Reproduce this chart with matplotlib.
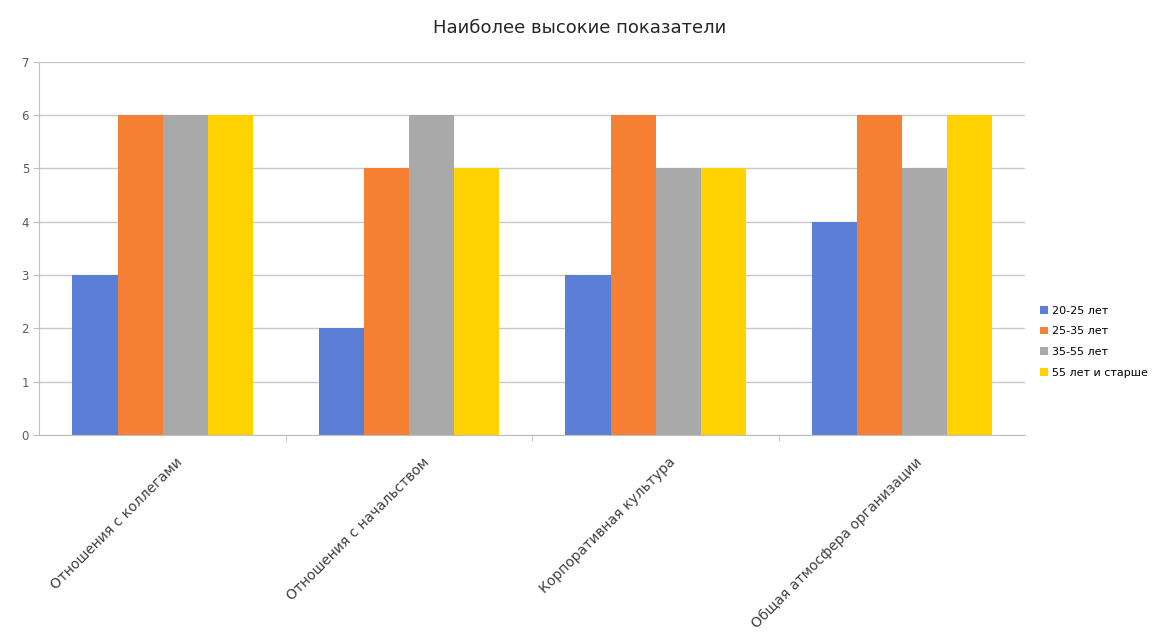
import numpy as np
import matplotlib
matplotlib.use('Agg')
import matplotlib.pyplot as plt
from matplotlib.transforms import ScaledTranslation

# --- data ---
categories = ['Отношения с коллегами', 'Отношения с начальством',
              'Корпоративная культура', 'Общая атмосфера организации']
series = ['20-25 лет', '25-35 лет', '35-55 лет', '55 лет и старше']
v_20_25 = [3, 2, 3, 4]
v_25_35 = [6, 5, 6, 6]
v_35_55 = [6, 6, 5, 5]
v_55 = [6, 5, 5, 6]
colors = ['#5b7fd6', '#f57f32', '#a9a9a9', '#ffd200']

values = [v_20_25, v_25_35, v_35_55, v_55]

fig = plt.figure(figsize=(11.6, 6.37), dpi=100)
ax = fig.add_axes([0.034, 0.317, 0.85, 0.586])

x = np.arange(len(categories))
w = 0.183
for i, (name, vals, c) in enumerate(zip(series, values, colors)):
    ax.bar(x + (i - 1.5) * w, vals, width=w, color=c, label=name, zorder=2)

ax.set_xlim(-0.5, len(categories) - 0.5)
ax.set_ylim(0, 7)
ax.set_yticks(range(0, 8))
ax.tick_params(axis='y', length=4, color='#bfbfbf', labelsize=8.5, labelcolor='#595959')
ax.yaxis.grid(True, color='#c8c8c8', linewidth=1, zorder=0)
ax.set_axisbelow(True)

ax.set_xticks(x)
ax.set_xticklabels(categories, rotation=45, ha='right', va='center',
                   rotation_mode='anchor', fontsize=10, color='#404040')
ax.tick_params(axis='x', length=0, pad=18)
# Excel places the rotated labels a bit right of the category centre
shift = ScaledTranslation(13 / 72, 0, fig.dpi_scale_trans)
for lab in ax.get_xticklabels():
    lab.set_transform(lab.get_transform() + shift)
# small ticks between categories
ax.set_xticks(np.arange(0.5, len(categories) - 0.5), minor=True)
ax.tick_params(axis='x', which='minor', length=4, color='#bfbfbf')

for s in ['top', 'right']:
    ax.spines[s].set_visible(False)
ax.spines['left'].set_color('#bfbfbf')
ax.spines['bottom'].set_color('#bfbfbf')

fig.suptitle('Наиболее высокие показатели', y=0.97, fontsize=13, color='#262626')

ax.legend(loc='center left', bbox_to_anchor=(1.008, 0.25), frameon=False,
          fontsize=8, handlelength=0.7, handleheight=0.7, handletextpad=0.4,
          labelspacing=0.95, borderaxespad=0.2)

fig.savefig('out.png', dpi=100)
